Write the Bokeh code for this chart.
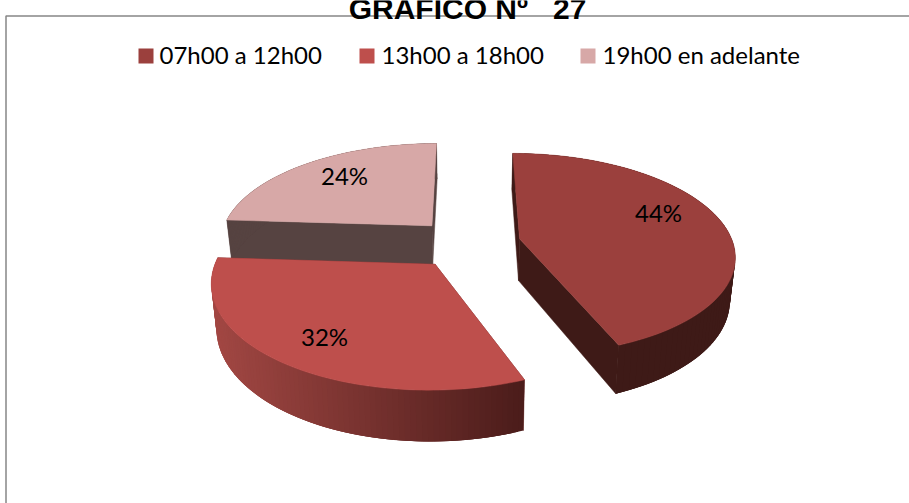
import numpy as np
from bokeh.core.properties import value
from bokeh.embed import file_html
from bokeh.models import Range1d
from bokeh.plotting import figure
from bokeh.resources import INLINE

# Chart content
title_text = "GRAFICO Nº\u00a0\u00a0\u00a027"
categories = ["07h00 a 12h00", "13h00 a 18h00", "19h00 en adelante"]
shares = [44, 32, 24]
top_colors = ["#9B403D", "#BE4F4C", "#D7A8A7"]
side_colors = ["#3E1A17", None, "#564341"]

# Perspective disc of the 3D pie (pixels on the page)
CX, CY, RX, RY, PERSP = 467.0, 243.0, 213.5, 99.75, 0.1515
EXPLODE, DROP, BASE_SCALE = 0.25, 42.0, 0.98
RIM_LEFT, RIM_RIGHT = np.array([163, 72, 68]), np.array([76, 29, 27])

FONT = value("Lato")
LABEL_XY = {44: (658, 212), 32: (324, 336), 24: (344, 175)}
LEGEND_SWATCH_X = [138, 359, 580]
LEGEND_TEXT_X = [159, 381, 602]


def project(u, v, base=False):
    d = 1 + PERSP * v
    x = CX + RX * u / d
    y = CY - RY * v / d
    if base:
        x = CX + (x - CX) * BASE_SCALE
        y = y + DROP / d
    return x, y


def slice_points(start, end, base=False, n=90):
    """Apex and outer arc of one exploded slice; angles run clockwise from the top."""
    mid = (start + end) / 2
    ou, ov = EXPLODE * np.sin(mid), EXPLODE * np.cos(mid)
    ang = np.linspace(start, end, n)
    ax, ay = project(ou, ov, base)
    ex, ey = project(ou + np.sin(ang), ov + np.cos(ang), base)
    return (ax, ay), ex, ey


p = figure(width=909, height=503, output_backend="svg", toolbar_location=None,
           x_range=Range1d(0, 909), y_range=Range1d(503, 0),
           min_border=0, outline_line_color=None, background_fill_color="white")
p.axis.visible = False
p.grid.visible = False

# Chart frame: only its top and left sides fall on the page
p.line([5.5, 5.5, 909], [503, 15.5, 15.5], line_color="#868686", line_width=1.5)

# Slice angles follow the shares
fractions = np.array(shares) / sum(shares) * 2 * np.pi
ends = np.cumsum(fractions)
starts = ends - fractions

for i in [2, 0, 1]:
    a0, a1 = starts[i], ends[i]
    (tax, tay), tx, ty = slice_points(a0, a1)
    (bax, bay), bx, by = slice_points(a0, a1, base=True)

    # Radial walls
    wall = side_colors[i] or "#6A2A28"
    for k in (0, -1):
        p.patch([tax, tx[k], bx[k], bax], [tay, ty[k], by[k], bay],
                fill_color=wall, line_color=wall, line_width=0.5)

    # Curved rim, with a left-to-right shade on the middle slice.
    # Each strip reaches over the next one so no seams show between them.
    for j in range(len(tx) - 1):
        if side_colors[i] is None:
            t = np.clip((tx[j] - tx.min()) / (tx.max() - tx.min()), 0, 1)
            c = (1 - t) * RIM_LEFT + t * RIM_RIGHT
            col = "#%02x%02x%02x" % tuple(int(q) for q in c)
        else:
            col = side_colors[i]
        e = min(j + 3, len(tx) - 1)
        p.patch([tx[j], tx[e], bx[e], bx[j]], [ty[j], ty[e], by[e], by[j]],
                fill_color=col, line_color=None)

    # Top face
    p.patch(np.r_[tax, tx], np.r_[tay, ty], fill_color=top_colors[i], line_color=top_colors[i], line_width=0.5)

# Percentage labels
p.text([LABEL_XY[s][0] for s in shares], [LABEL_XY[s][1] for s in shares],
       text=[f"{s}%" for s in shares], text_font=FONT, text_font_size="24px",
       text_color="black", text_align="center", text_baseline="middle")

# Legend
for i, name in enumerate(categories):
    p.quad(left=LEGEND_SWATCH_X[i], right=LEGEND_SWATCH_X[i] + 15, top=48, bottom=63,
           fill_color=top_colors[i], line_color=None)
p.text(LEGEND_TEXT_X, [53.5] * 3, text=categories, text_font=FONT, text_font_size="24px",
       text_color="black", text_align="left", text_baseline="middle")

# Title, running off the top of the page
p.text([467], [8], text=[title_text], text_font=value("Liberation Sans"), text_font_size="30px",
       text_font_style="bold", text_color="black", text_align="center", text_baseline="alphabetic")

open("out.html", "w").write(file_html(p, INLINE))
